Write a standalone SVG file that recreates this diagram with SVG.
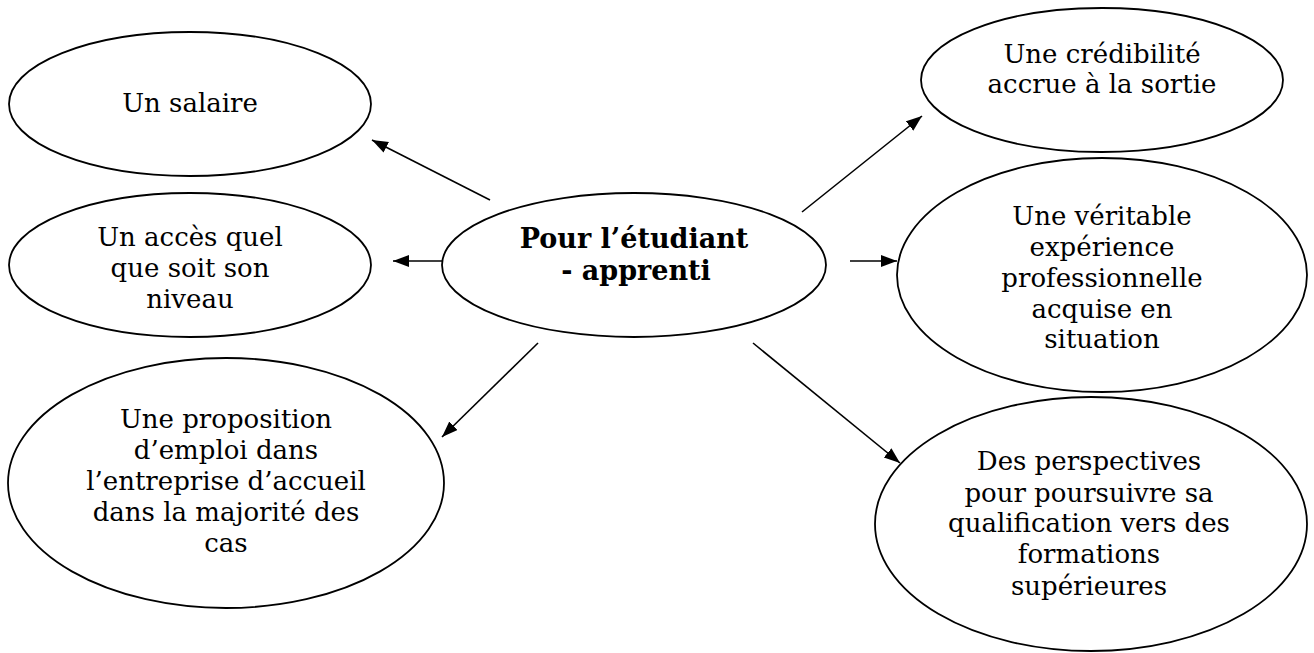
<svg xmlns="http://www.w3.org/2000/svg" width="1314" height="653" viewBox="0 0 1314 653">
<style>
.node ellipse{fill:#fff;stroke:#000;stroke-width:1.8}
.node text{font-family:"DejaVu Serif","Liberation Serif",serif;font-size:26px;fill:#000;text-anchor:middle}
.node text.b{font-weight:bold;font-size:27px}
.conn line{stroke:#000;stroke-width:1.6;marker-end:url(#ah)}
</style>
<defs>
<marker id="ah" markerUnits="userSpaceOnUse" markerWidth="17" markerHeight="13" refX="16" refY="6" orient="auto">
<path d="M0,0 L16,6 L0,12 z" fill="#000"/>
</marker>
</defs>
<g class="conn" id="connectors">
<line x1="490" y1="200" x2="372" y2="140"/>
<line x1="442" y1="261" x2="393" y2="261"/>
<line x1="538" y1="343" x2="442" y2="437"/>
<line x1="802" y1="212" x2="922" y2="116"/>
<line x1="850" y1="261" x2="897" y2="261"/>
<line x1="753" y1="343" x2="900" y2="463"/>
</g>
<g class="node" id="center">
<ellipse cx="634" cy="265" rx="192" ry="72"/>
<text class="b" x="634" y="248">Pour l’étudiant</text>
<text class="b" x="636" y="280">- apprenti</text>
</g>
<g class="node" id="salaire">
<ellipse cx="190" cy="104" rx="181" ry="72"/>
<text x="190" y="112">Un salaire</text>
</g>
<g class="node" id="acces">
<ellipse cx="190" cy="265" rx="181" ry="72"/>
<text x="190" y="246">Un accès quel</text>
<text x="190" y="277">que soit son</text>
<text x="190" y="308">niveau</text>
</g>
<g class="node" id="proposition">
<ellipse cx="226" cy="483" rx="218" ry="125"/>
<text x="226" y="428">Une proposition</text>
<text x="226" y="459">d’emploi dans</text>
<text x="226" y="490">l’entreprise d’accueil</text>
<text x="226" y="521">dans la majorité des</text>
<text x="226" y="552">cas</text>
</g>
<g class="node" id="credibilite">
<ellipse cx="1102" cy="80" rx="181" ry="72"/>
<text x="1102" y="63">Une crédibilité</text>
<text x="1102" y="93">accrue à la sortie</text>
</g>
<g class="node" id="experience">
<ellipse cx="1102" cy="275" rx="205" ry="117"/>
<text x="1102" y="225">Une véritable</text>
<text x="1102" y="256">expérience</text>
<text x="1102" y="287">professionnelle</text>
<text x="1102" y="318">acquise en</text>
<text x="1102" y="348">situation</text>
</g>
<g class="node" id="perspectives">
<ellipse cx="1091" cy="524" rx="216" ry="127"/>
<text x="1089" y="470">Des perspectives</text>
<text x="1089" y="502">pour poursuivre sa</text>
<text x="1089" y="532">qualification vers des</text>
<text x="1089" y="563">formations</text>
<text x="1089" y="595">supérieures</text>
</g>
</svg>
